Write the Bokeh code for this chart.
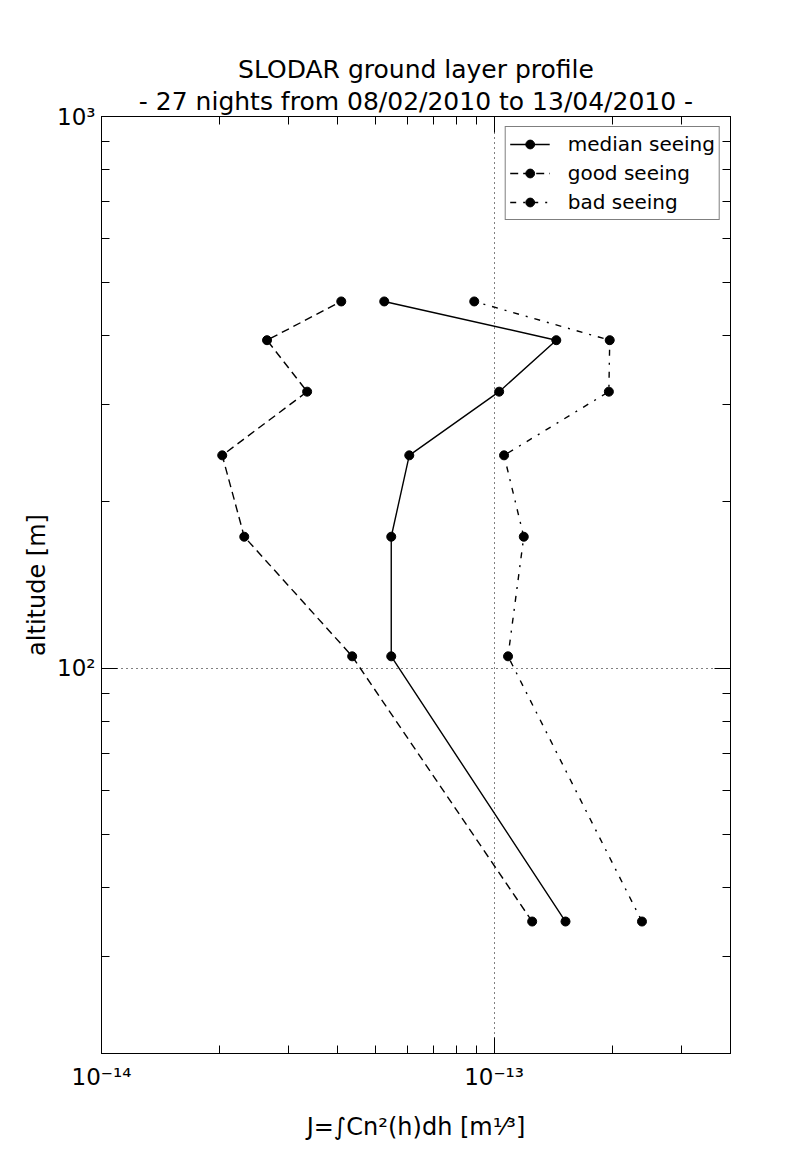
from bokeh.plotting import figure
from bokeh.models import LogAxis, FixedTicker, Title, Legend, LegendItem, Range1d
from bokeh.embed import file_html
from bokeh.resources import INLINE

# ---- data ----
altitude = [34.7, 105, 173, 243, 317, 393, 462]
j_median = [1.52e-13, 5.47e-14, 5.47e-14, 6.08e-14, 1.03e-13, 1.44e-13, 5.25e-14]
j_good = [1.25e-13, 4.35e-14, 2.31e-14, 2.03e-14, 3.34e-14, 2.64e-14, 4.08e-14]
j_bad = [2.38e-13, 1.085e-13, 1.19e-13, 1.06e-13, 1.96e-13, 1.97e-13, 8.9e-14]
series_names = ["median seeing", "good seeing", "bad seeing"]

x_major = [1e-14, 1e-13]
x_major_labels = ["10⁻¹⁴", "10⁻¹³"]
y_major = [100, 1000]
y_major_labels = ["10²", "10³"]
x_limits = (1e-14, 4e-13)
y_limits = (20, 1000)

title_lines = ["SLODAR ground layer profile",
               "- 27 nights from 08/02/2010 to 13/04/2010 -"]
x_label = "J=∫Cn²(h)dh [m¹⁄³]"
y_label = "altitude [m]"

FONT = "DejaVu Sans"

x_minor = [m * 10.0 ** e for e in (-14, -13) for m in range(2, 10)
           if x_limits[0] <= m * 10.0 ** e <= x_limits[1]]
y_minor = [m * 10.0 ** e for e in (1, 2) for m in range(2, 10)
           if y_limits[0] <= m * 10.0 ** e <= y_limits[1]]

p = figure(x_axis_type="log", y_axis_type="log",
           x_range=Range1d(*x_limits), y_range=Range1d(*y_limits),
           frame_width=629, frame_height=937,
           min_border_left=101, min_border_right=66,
           min_border_top=116, min_border_bottom=102,
           output_backend="svg", toolbar_location=None, title=None)
p.background_fill_color = "white"
p.border_fill_color = "white"
p.outline_line_color = "black"
p.outline_line_width = 1


def style_axis(ax, major, minor, overrides):
    ax.ticker = FixedTicker(ticks=major, minor_ticks=minor)
    ax.major_label_overrides = overrides
    ax.major_tick_in = 16
    ax.major_tick_out = 0
    ax.minor_tick_in = 8
    ax.minor_tick_out = 0
    ax.major_tick_line_color = "black"
    ax.minor_tick_line_color = "black"
    ax.axis_line_color = "black"
    ax.major_label_text_font = FONT
    ax.major_label_text_font_size = "23px"
    ax.major_label_text_color = "black"
    ax.axis_label_text_font = FONT
    ax.axis_label_text_font_size = "24px"
    ax.axis_label_text_font_style = "normal"
    ax.axis_label_text_color = "black"


xa = p.xaxis[0]
style_axis(xa, x_major, x_minor, dict(zip(x_major, x_major_labels)))
xa.major_label_standoff = 10
xa.axis_label = x_label
xa.axis_label_standoff = 20

ya = p.yaxis[0]
style_axis(ya, y_major, y_minor, dict(zip(y_major, y_major_labels)))
ya.major_label_standoff = 6
ya.axis_label = y_label
ya.axis_label_standoff = 3

top_axis = LogAxis()
style_axis(top_axis, x_major, x_minor, {v: "" for v in x_major})
top_axis.major_label_standoff = 0
p.add_layout(top_axis, "above")

right_axis = LogAxis()
style_axis(right_axis, y_major, y_minor, {v: "" for v in y_major})
right_axis.major_label_standoff = 0
p.add_layout(right_axis, "right")

p.xgrid.ticker = FixedTicker(ticks=x_major)
p.ygrid.ticker = FixedTicker(ticks=y_major)
for g in (p.xgrid, p.ygrid):
    g.grid_line_color = "black"
    g.grid_line_dash = "1 4"
    g.grid_line_width = 1

styles = [("solid", j_median), ("8 5", j_good), ("6 7 2 7", j_bad)]
items = []
for name, (dash, xs) in zip(series_names, styles):
    lr = p.line(xs, altitude, line_color="black", line_width=1.4, line_dash=dash)
    sr = p.scatter(xs, altitude, size=9, fill_color="black", line_color="black")
    items.append(LegendItem(label=name, renderers=[lr, sr]))

legend = Legend(items=items, location="top_right")
legend.border_line_color = "black"
legend.border_line_width = 1
legend.background_fill_color = "white"
legend.background_fill_alpha = 1
legend.label_text_font = FONT
legend.label_text_font_size = "20px"
legend.label_text_color = "black"
legend.glyph_width = 40
legend.glyph_height = 22
legend.label_height = 26
legend.spacing = 3
legend.padding = 4
legend.margin = 10
legend.label_standoff = 18
p.add_layout(legend)

# the line added last sits farthest from the frame
title_standoffs = [0, 2]
for line, so in reversed(list(zip(title_lines, title_standoffs))):
    p.add_layout(Title(text=line, align="center", text_font=FONT,
                       text_font_size="25px", text_font_style="normal",
                       text_color="black", standoff=so), "above")

open("out.html", "w").write(file_html(p, INLINE))
